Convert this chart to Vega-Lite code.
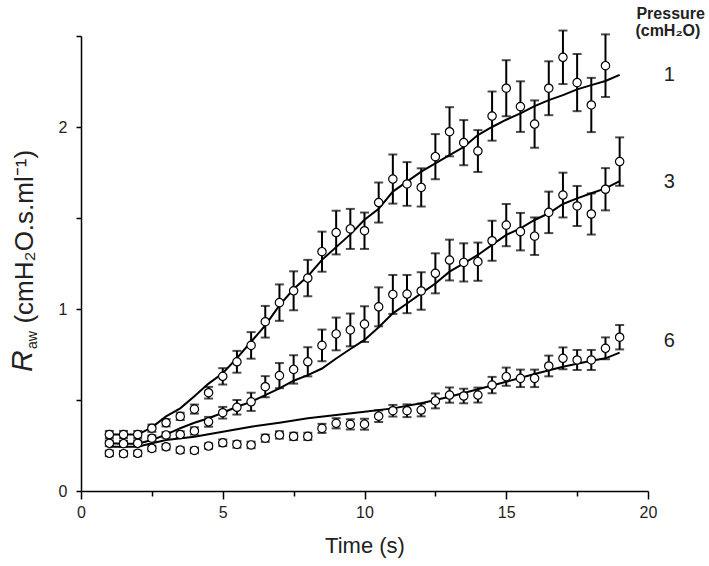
{
  "$schema": "https://vega.github.io/schema/vega-lite/v6.json",
  "width": 567,
  "height": 455,
  "autosize": {"type": "none"},
  "padding": {"left": 81, "top": 36, "right": 61, "bottom": 75},
  "background": "white",
  "config": {
    "view": {"stroke": null},
    "font": "Liberation Sans",
    "axis": {
      "grid": false,
      "domainColor": "black",
      "domainWidth": 1.5,
      "tickColor": "black",
      "tickWidth": 1.5,
      "labelFont": "Liberation Sans",
      "labelFontSize": 16,
      "labelColor": "#222",
      "titleFont": "Liberation Sans",
      "titleFontWeight": "normal",
      "titleColor": "#222"
    }
  },
  "datasets": {
    "pts": [
      {"series": "1", "t": 1, "r": 0.31, "se": 0.02},
      {"series": "1", "t": 1.5, "r": 0.31, "se": 0.02},
      {"series": "1", "t": 2, "r": 0.31, "se": 0.02},
      {"series": "1", "t": 2.5, "r": 0.345, "se": 0.02},
      {"series": "1", "t": 3, "r": 0.375, "se": 0.02},
      {"series": "1", "t": 3.5, "r": 0.41, "se": 0.02},
      {"series": "1", "t": 4, "r": 0.45, "se": 0.025},
      {"series": "1", "t": 4.5, "r": 0.54, "se": 0.032},
      {"series": "1", "t": 5, "r": 0.63, "se": 0.045},
      {"series": "1", "t": 5.5, "r": 0.71, "se": 0.06},
      {"series": "1", "t": 6, "r": 0.8, "se": 0.073},
      {"series": "1", "t": 6.5, "r": 0.93, "se": 0.087},
      {"series": "1", "t": 7, "r": 1.035, "se": 0.1},
      {"series": "1", "t": 7.5, "r": 1.1, "se": 0.107},
      {"series": "1", "t": 8, "r": 1.17, "se": 0.1},
      {"series": "1", "t": 8.5, "r": 1.315, "se": 0.11},
      {"series": "1", "t": 9, "r": 1.42, "se": 0.12},
      {"series": "1", "t": 9.5, "r": 1.44, "se": 0.11},
      {"series": "1", "t": 10, "r": 1.43, "se": 0.1},
      {"series": "1", "t": 10.5, "r": 1.585, "se": 0.11},
      {"series": "1", "t": 11, "r": 1.714, "se": 0.135},
      {"series": "1", "t": 11.5, "r": 1.687, "se": 0.12},
      {"series": "1", "t": 12, "r": 1.668, "se": 0.105},
      {"series": "1", "t": 12.5, "r": 1.837, "se": 0.124},
      {"series": "1", "t": 13, "r": 1.974, "se": 0.135},
      {"series": "1", "t": 13.5, "r": 1.914, "se": 0.124},
      {"series": "1", "t": 14, "r": 1.868, "se": 0.115},
      {"series": "1", "t": 14.5, "r": 2.06, "se": 0.135},
      {"series": "1", "t": 15, "r": 2.213, "se": 0.154},
      {"series": "1", "t": 15.5, "r": 2.112, "se": 0.139},
      {"series": "1", "t": 16, "r": 2.016, "se": 0.13},
      {"series": "1", "t": 16.5, "r": 2.213, "se": 0.148},
      {"series": "1", "t": 17, "r": 2.383, "se": 0.147},
      {"series": "1", "t": 17.5, "r": 2.244, "se": 0.157},
      {"series": "1", "t": 18, "r": 2.121, "se": 0.149},
      {"series": "1", "t": 18.5, "r": 2.337, "se": 0.172},
      {"series": "3", "t": 1, "r": 0.262, "se": 0.015},
      {"series": "3", "t": 1.5, "r": 0.26, "se": 0.015},
      {"series": "3", "t": 2, "r": 0.262, "se": 0.015},
      {"series": "3", "t": 2.5, "r": 0.29, "se": 0.015},
      {"series": "3", "t": 3, "r": 0.308, "se": 0.015},
      {"series": "3", "t": 3.5, "r": 0.31, "se": 0.018},
      {"series": "3", "t": 4, "r": 0.33, "se": 0.02},
      {"series": "3", "t": 4.5, "r": 0.38, "se": 0.027},
      {"series": "3", "t": 5, "r": 0.43, "se": 0.032},
      {"series": "3", "t": 5.5, "r": 0.46, "se": 0.04},
      {"series": "3", "t": 6, "r": 0.49, "se": 0.05},
      {"series": "3", "t": 6.5, "r": 0.573, "se": 0.058},
      {"series": "3", "t": 7, "r": 0.634, "se": 0.069},
      {"series": "3", "t": 7.5, "r": 0.668, "se": 0.078},
      {"series": "3", "t": 8, "r": 0.71, "se": 0.08},
      {"series": "3", "t": 8.5, "r": 0.8, "se": 0.087},
      {"series": "3", "t": 9, "r": 0.863, "se": 0.09},
      {"series": "3", "t": 9.5, "r": 0.885, "se": 0.09},
      {"series": "3", "t": 10, "r": 0.917, "se": 0.098},
      {"series": "3", "t": 10.5, "r": 1.012, "se": 0.107},
      {"series": "3", "t": 11, "r": 1.08, "se": 0.107},
      {"series": "3", "t": 11.5, "r": 1.082, "se": 0.105},
      {"series": "3", "t": 12, "r": 1.099, "se": 0.103},
      {"series": "3", "t": 12.5, "r": 1.196, "se": 0.11},
      {"series": "3", "t": 13, "r": 1.269, "se": 0.112},
      {"series": "3", "t": 13.5, "r": 1.256, "se": 0.105},
      {"series": "3", "t": 14, "r": 1.26, "se": 0.105},
      {"series": "3", "t": 14.5, "r": 1.375, "se": 0.11},
      {"series": "3", "t": 15, "r": 1.461, "se": 0.116},
      {"series": "3", "t": 15.5, "r": 1.425, "se": 0.103},
      {"series": "3", "t": 16, "r": 1.4, "se": 0.103},
      {"series": "3", "t": 16.5, "r": 1.531, "se": 0.114},
      {"series": "3", "t": 17, "r": 1.626, "se": 0.123},
      {"series": "3", "t": 17.5, "r": 1.566, "se": 0.11},
      {"series": "3", "t": 18, "r": 1.522, "se": 0.113},
      {"series": "3", "t": 18.5, "r": 1.658, "se": 0.116},
      {"series": "3", "t": 19, "r": 1.81, "se": 0.133},
      {"series": "6", "t": 1, "r": 0.207, "se": 0.015},
      {"series": "6", "t": 1.5, "r": 0.205, "se": 0.015},
      {"series": "6", "t": 2, "r": 0.207, "se": 0.015},
      {"series": "6", "t": 2.5, "r": 0.234, "se": 0.015},
      {"series": "6", "t": 3, "r": 0.243, "se": 0.015},
      {"series": "6", "t": 3.5, "r": 0.225, "se": 0.015},
      {"series": "6", "t": 4, "r": 0.223, "se": 0.015},
      {"series": "6", "t": 4.5, "r": 0.247, "se": 0.015},
      {"series": "6", "t": 5, "r": 0.265, "se": 0.018},
      {"series": "6", "t": 5.5, "r": 0.256, "se": 0.018},
      {"series": "6", "t": 6, "r": 0.253, "se": 0.018},
      {"series": "6", "t": 6.5, "r": 0.29, "se": 0.02},
      {"series": "6", "t": 7, "r": 0.308, "se": 0.02},
      {"series": "6", "t": 7.5, "r": 0.3, "se": 0.02},
      {"series": "6", "t": 8, "r": 0.3, "se": 0.02},
      {"series": "6", "t": 8.5, "r": 0.344, "se": 0.025},
      {"series": "6", "t": 9, "r": 0.372, "se": 0.028},
      {"series": "6", "t": 9.5, "r": 0.366, "se": 0.028},
      {"series": "6", "t": 10, "r": 0.367, "se": 0.03},
      {"series": "6", "t": 10.5, "r": 0.411, "se": 0.032},
      {"series": "6", "t": 11, "r": 0.441, "se": 0.032},
      {"series": "6", "t": 11.5, "r": 0.441, "se": 0.035},
      {"series": "6", "t": 12, "r": 0.445, "se": 0.035},
      {"series": "6", "t": 12.5, "r": 0.495, "se": 0.041},
      {"series": "6", "t": 13, "r": 0.527, "se": 0.042},
      {"series": "6", "t": 13.5, "r": 0.522, "se": 0.04},
      {"series": "6", "t": 14, "r": 0.527, "se": 0.041},
      {"series": "6", "t": 14.5, "r": 0.582, "se": 0.045},
      {"series": "6", "t": 15, "r": 0.628, "se": 0.05},
      {"series": "6", "t": 15.5, "r": 0.619, "se": 0.048},
      {"series": "6", "t": 16, "r": 0.619, "se": 0.048},
      {"series": "6", "t": 16.5, "r": 0.687, "se": 0.057},
      {"series": "6", "t": 17, "r": 0.729, "se": 0.06},
      {"series": "6", "t": 17.5, "r": 0.72, "se": 0.055},
      {"series": "6", "t": 18, "r": 0.72, "se": 0.055},
      {"series": "6", "t": 18.5, "r": 0.784, "se": 0.06},
      {"series": "6", "t": 19, "r": 0.845, "se": 0.067}
    ],
    "fit": [
      {"series": "1", "t": 1, "r": 0.31}, {"series": "1", "t": 1.5, "r": 0.31},
      {"series": "1", "t": 2, "r": 0.31}, {"series": "1", "t": 2.5, "r": 0.35},
      {"series": "1", "t": 3, "r": 0.41}, {"series": "1", "t": 3.5, "r": 0.454},
      {"series": "1", "t": 4, "r": 0.52}, {"series": "1", "t": 4.5, "r": 0.59},
      {"series": "1", "t": 5, "r": 0.647}, {"series": "1", "t": 5.5, "r": 0.73},
      {"series": "1", "t": 6, "r": 0.82}, {"series": "1", "t": 6.5, "r": 0.91},
      {"series": "1", "t": 7, "r": 1.02}, {"series": "1", "t": 7.5, "r": 1.11},
      {"series": "1", "t": 8, "r": 1.18}, {"series": "1", "t": 8.5, "r": 1.27},
      {"series": "1", "t": 9, "r": 1.34}, {"series": "1", "t": 9.5, "r": 1.41},
      {"series": "1", "t": 10, "r": 1.49}, {"series": "1", "t": 10.5, "r": 1.55},
      {"series": "1", "t": 11, "r": 1.645}, {"series": "1", "t": 11.5, "r": 1.7},
      {"series": "1", "t": 12, "r": 1.755}, {"series": "1", "t": 12.5, "r": 1.8},
      {"series": "1", "t": 13, "r": 1.846}, {"series": "1", "t": 13.5, "r": 1.89},
      {"series": "1", "t": 14, "r": 1.956}, {"series": "1", "t": 14.5, "r": 2.0},
      {"series": "1", "t": 15, "r": 2.04}, {"series": "1", "t": 15.5, "r": 2.075},
      {"series": "1", "t": 16, "r": 2.115}, {"series": "1", "t": 16.5, "r": 2.148},
      {"series": "1", "t": 17, "r": 2.175}, {"series": "1", "t": 17.5, "r": 2.207},
      {"series": "1", "t": 18, "r": 2.23}, {"series": "1", "t": 18.5, "r": 2.253},
      {"series": "1", "t": 19, "r": 2.286},
      {"series": "3", "t": 1, "r": 0.262}, {"series": "3", "t": 1.5, "r": 0.26},
      {"series": "3", "t": 2, "r": 0.26}, {"series": "3", "t": 2.5, "r": 0.28},
      {"series": "3", "t": 3, "r": 0.31}, {"series": "3", "t": 3.5, "r": 0.345},
      {"series": "3", "t": 4, "r": 0.375}, {"series": "3", "t": 4.5, "r": 0.4},
      {"series": "3", "t": 5, "r": 0.43}, {"series": "3", "t": 5.5, "r": 0.463},
      {"series": "3", "t": 6, "r": 0.49}, {"series": "3", "t": 6.5, "r": 0.527},
      {"series": "3", "t": 7, "r": 0.564}, {"series": "3", "t": 7.5, "r": 0.606},
      {"series": "3", "t": 8, "r": 0.637}, {"series": "3", "t": 8.5, "r": 0.673},
      {"series": "3", "t": 9, "r": 0.728}, {"series": "3", "t": 9.5, "r": 0.78},
      {"series": "3", "t": 10, "r": 0.83}, {"series": "3", "t": 10.5, "r": 0.9},
      {"series": "3", "t": 11, "r": 0.976}, {"series": "3", "t": 11.5, "r": 1.03},
      {"series": "3", "t": 12, "r": 1.086}, {"series": "3", "t": 12.5, "r": 1.14},
      {"series": "3", "t": 13, "r": 1.205}, {"series": "3", "t": 13.5, "r": 1.251},
      {"series": "3", "t": 14, "r": 1.297}, {"series": "3", "t": 14.5, "r": 1.352},
      {"series": "3", "t": 15, "r": 1.407}, {"series": "3", "t": 15.5, "r": 1.443},
      {"series": "3", "t": 16, "r": 1.489}, {"series": "3", "t": 16.5, "r": 1.526},
      {"series": "3", "t": 17, "r": 1.577}, {"series": "3", "t": 17.5, "r": 1.608},
      {"series": "3", "t": 18, "r": 1.636}, {"series": "3", "t": 18.5, "r": 1.663},
      {"series": "3", "t": 19, "r": 1.703},
      {"series": "6", "t": 1, "r": 0.243}, {"series": "6", "t": 1.5, "r": 0.243},
      {"series": "6", "t": 2, "r": 0.243}, {"series": "6", "t": 2.5, "r": 0.262},
      {"series": "6", "t": 3, "r": 0.28}, {"series": "6", "t": 4, "r": 0.298},
      {"series": "6", "t": 5, "r": 0.326}, {"series": "6", "t": 6, "r": 0.353},
      {"series": "6", "t": 7, "r": 0.375}, {"series": "6", "t": 8, "r": 0.4},
      {"series": "6", "t": 9, "r": 0.418}, {"series": "6", "t": 10, "r": 0.435},
      {"series": "6", "t": 11, "r": 0.454}, {"series": "6", "t": 12, "r": 0.482},
      {"series": "6", "t": 12.5, "r": 0.5}, {"series": "6", "t": 13, "r": 0.518},
      {"series": "6", "t": 14, "r": 0.559}, {"series": "6", "t": 15, "r": 0.6},
      {"series": "6", "t": 16, "r": 0.643}, {"series": "6", "t": 17, "r": 0.683},
      {"series": "6", "t": 18, "r": 0.716}, {"series": "6", "t": 18.5, "r": 0.729},
      {"series": "6", "t": 19, "r": 0.76}
    ],
    "labels": [
      {"t": 20.75, "r": 2.286, "lab": "1"},
      {"t": 20.75, "r": 1.7, "lab": "3"},
      {"t": 20.75, "r": 0.826, "lab": "6"}
    ],
    "one": [{}]
  },
  "layer": [
    {
      "data": {"name": "pts"},
      "mark": {"type": "errorbar", "ticks": {"size": 9}, "thickness": 2, "color": "black"},
      "encoding": {
        "x": {
          "field": "t",
          "type": "quantitative",
          "scale": {"domain": [0, 20], "nice": false},
          "axis": {
            "values": [0, 2.5, 5, 7.5, 10, 12.5, 15, 17.5, 20],
            "labelExpr": "datum.value % 5 === 0 ? format(datum.value, 'd') : ''",
            "labelOverlap": false,
            "labelFlush": false,
            "tickSize": {"condition": {"test": "datum.value % 5 === 0", "value": 8}, "value": 5},
            "labelPadding": 5,
            "title": "Time (s)",
            "titleFontSize": 22,
            "titlePadding": 15
          }
        },
        "y": {
          "field": "r",
          "type": "quantitative",
          "scale": {"domain": [0, 2.5], "nice": false},
          "axis": {
            "values": [0, 0.5, 1, 1.5, 2, 2.5],
            "labelExpr": "datum.value % 1 === 0 ? format(datum.value, 'd') : ''",
            "labelOverlap": false,
            "labelFlush": false,
            "tickSize": 5,
            "labelPadding": 9,
            "title": null
          }
        },
        "yError": {"field": "se"},
        "detail": {"field": "series"}
      }
    },
    {
      "data": {"name": "fit"},
      "mark": {"type": "line", "color": "black", "strokeWidth": 2},
      "encoding": {
        "x": {"field": "t", "type": "quantitative"},
        "y": {"field": "r", "type": "quantitative"},
        "detail": {"field": "series"}
      }
    },
    {
      "data": {"name": "pts"},
      "mark": {"type": "point", "shape": "circle", "filled": true, "fill": "white", "stroke": "black", "strokeWidth": 1.2, "size": 70, "opacity": 1},
      "encoding": {
        "x": {"field": "t", "type": "quantitative"},
        "y": {"field": "r", "type": "quantitative"}
      }
    },
    {
      "data": {"name": "labels"},
      "mark": {"type": "text", "font": "Liberation Sans", "fontSize": 20, "color": "#222", "align": "center", "baseline": "middle"},
      "encoding": {
        "x": {"field": "t", "type": "quantitative"},
        "y": {"field": "r", "type": "quantitative"},
        "text": {"field": "lab"}
      }
    },
    {
      "data": {"name": "one"},
      "mark": {"type": "text", "font": "Liberation Sans", "fontSize": 16, "fontWeight": "bold", "color": "#222", "align": "center", "baseline": "alphabetic"},
      "encoding": {
        "x": {"datum": 20.8},
        "y": {"datum": 2.593},
        "text": {"value": "Pressure"}
      }
    },
    {
      "data": {"name": "one"},
      "mark": {"type": "text", "font": "Liberation Sans", "fontSize": 16, "fontWeight": "bold", "color": "#222", "align": "center", "baseline": "alphabetic"},
      "encoding": {
        "x": {"datum": 20.7},
        "y": {"datum": 2.5},
        "text": {"value": "(cmH₂O)"}
      }
    },
    {
      "data": {"name": "one"},
      "mark": {"type": "text", "font": "Liberation Sans", "fontSize": 30, "fontStyle": "italic", "color": "#222", "align": "left", "baseline": "alphabetic", "angle": 270},
      "encoding": {
        "x": {"datum": -1.73},
        "y": {"datum": 0.654},
        "text": {"value": "R"}
      }
    },
    {
      "data": {"name": "one"},
      "mark": {"type": "text", "font": "Liberation Sans", "fontSize": 14, "color": "#222", "align": "left", "baseline": "alphabetic", "angle": 270},
      "encoding": {
        "x": {"datum": -1.54},
        "y": {"datum": 0.78},
        "text": {"value": "aw"}
      }
    },
    {
      "data": {"name": "one"},
      "mark": {"type": "text", "font": "Liberation Sans", "fontSize": 26, "color": "#222", "align": "left", "baseline": "alphabetic", "angle": 270},
      "encoding": {
        "x": {"datum": -1.68},
        "y": {"datum": 0.92},
        "text": {"value": "(cmH₂O.s.ml⁻¹)"}
      }
    }
  ]
}
